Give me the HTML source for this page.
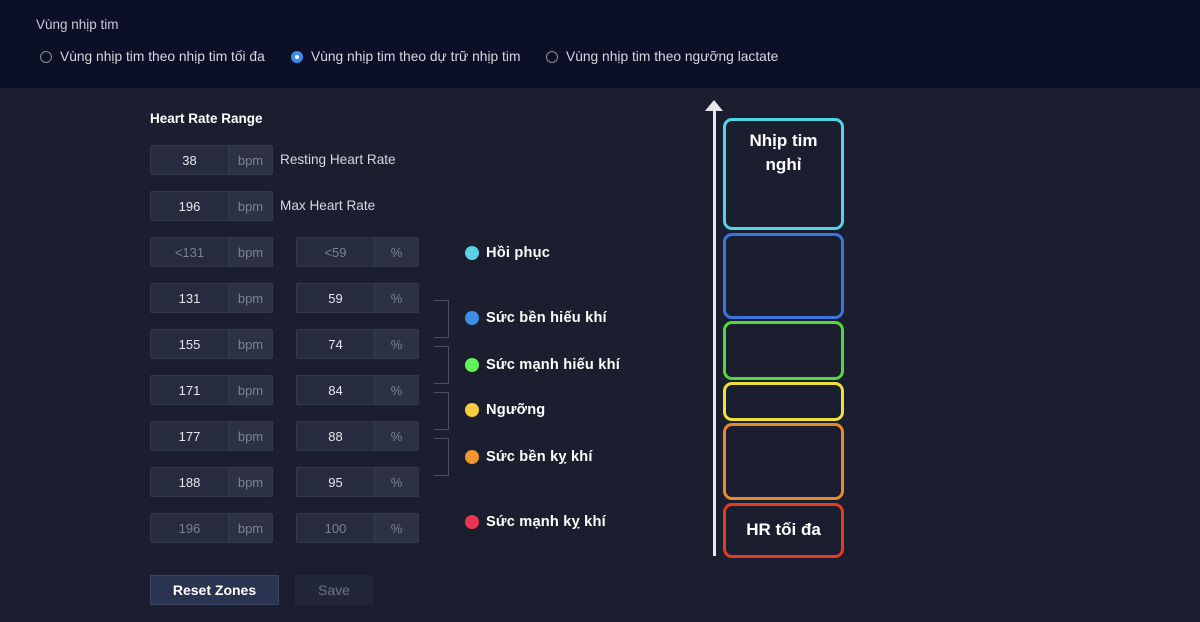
<!DOCTYPE html>
<html><head><meta charset="utf-8"><style>
*{margin:0;padding:0;box-sizing:border-box}
body{width:1200px;height:622px;background:#1a1e2e;font-family:"Liberation Sans","Noto Sans CJK SC",sans-serif;position:relative;overflow:hidden;color:#fff}
.top{position:absolute;left:0;top:0;width:1200px;height:88px;background:#0b1027}
.t1{position:absolute;left:36px;top:17px;font-size:13.5px;color:#c8cbd4}
.radio{position:absolute;top:49px;font-size:13.8px;color:#d6d8de;display:flex;align-items:center}
.radio i{display:inline-block;width:12px;height:12px;border:1px solid #8a8e9a;border-radius:50%;margin-right:8px}
.radio i.on{border:none;background:#3c8cf0;position:relative}
.radio i.on:after{content:"";position:absolute;left:4px;top:4px;width:4px;height:4px;background:#fff;border-radius:50%}
.h{position:absolute;left:150px;top:111px;font-size:13.5px;font-weight:bold}
.in{position:absolute;height:30px;display:flex;border:1px solid #343a4d;border-radius:2px;font-size:13px}
.in .v{background:#262b3d;display:flex;align-items:center;justify-content:center;color:#e6e8ee}
.in .u{background:#2c3144;display:flex;align-items:center;justify-content:center;color:#7c8193;border-left:1px solid #343a4d}
.dim .v{color:#7c8193}
.lbl{position:absolute;left:280px;font-size:13.6px;color:#d6d8de}
.br{position:absolute;left:434px;width:15px;border:1px solid #4a5062;border-left:none}
.lg{position:absolute;left:465px;font-size:14.6px;font-weight:bold;display:flex;align-items:center;letter-spacing:0.2px}
.lg i{display:inline-block;width:14px;height:14px;border-radius:50%;margin-right:7px}
.btn{position:absolute;top:575px;height:30px;font-size:13px;display:flex;align-items:center;justify-content:center}
.z{position:absolute;left:723px;width:121px;border:3px solid;border-radius:9px}
.zt{position:absolute;left:723px;width:121px;text-align:center;font-weight:bold;font-size:17px;line-height:24px}
</style></head><body>
<div class="top"></div>
<div class="t1">Vùng nhịp tim</div>
<div class="radio" style="left:40px"><i></i>Vùng nhịp tim theo nhịp tim tối đa</div>
<div class="radio" style="left:291px"><i class="on"></i>Vùng nhịp tim theo dự trữ nhịp tim</div>
<div class="radio" style="left:546px"><i></i>Vùng nhịp tim theo ngưỡng lactate</div>
<div class="h">Heart Rate Range</div>

<div class="in" style="left:150px;top:145px"><div class="v" style="width:77px">38</div><div class="u" style="width:44px">bpm</div></div>
<div class="lbl" style="top:152px">Resting Heart Rate</div>
<div class="in" style="left:150px;top:191px"><div class="v" style="width:77px">196</div><div class="u" style="width:44px">bpm</div></div>
<div class="lbl" style="top:198px">Max Heart Rate</div>

<div class="in dim" style="left:150px;top:237px"><div class="v" style="width:77px">&lt;131</div><div class="u" style="width:44px">bpm</div></div>
<div class="in dim" style="left:296px;top:237px"><div class="v" style="width:77px">&lt;59</div><div class="u" style="width:44px">%</div></div>
<div class="in" style="left:150px;top:283px"><div class="v" style="width:77px">131</div><div class="u" style="width:44px">bpm</div></div>
<div class="in" style="left:296px;top:283px"><div class="v" style="width:77px">59</div><div class="u" style="width:44px">%</div></div>
<div class="in" style="left:150px;top:329px"><div class="v" style="width:77px">155</div><div class="u" style="width:44px">bpm</div></div>
<div class="in" style="left:296px;top:329px"><div class="v" style="width:77px">74</div><div class="u" style="width:44px">%</div></div>
<div class="in" style="left:150px;top:375px"><div class="v" style="width:77px">171</div><div class="u" style="width:44px">bpm</div></div>
<div class="in" style="left:296px;top:375px"><div class="v" style="width:77px">84</div><div class="u" style="width:44px">%</div></div>
<div class="in" style="left:150px;top:421px"><div class="v" style="width:77px">177</div><div class="u" style="width:44px">bpm</div></div>
<div class="in" style="left:296px;top:421px"><div class="v" style="width:77px">88</div><div class="u" style="width:44px">%</div></div>
<div class="in" style="left:150px;top:467px"><div class="v" style="width:77px">188</div><div class="u" style="width:44px">bpm</div></div>
<div class="in" style="left:296px;top:467px"><div class="v" style="width:77px">95</div><div class="u" style="width:44px">%</div></div>
<div class="in dim" style="left:150px;top:513px"><div class="v" style="width:77px">196</div><div class="u" style="width:44px">bpm</div></div>
<div class="in dim" style="left:296px;top:513px"><div class="v" style="width:77px">100</div><div class="u" style="width:44px">%</div></div>

<div class="br" style="top:300px;height:38px"></div>
<div class="br" style="top:346px;height:38px"></div>
<div class="br" style="top:392px;height:38px"></div>
<div class="br" style="top:438px;height:38px"></div>

<div class="lg" style="top:245px"><i style="background:#5ccfe6"></i>Hồi phục</div>
<div class="lg" style="top:310px"><i style="background:#3d8ee8"></i>Sức bền hiếu khí</div>
<div class="lg" style="top:357px"><i style="background:#62f257"></i>Sức mạnh hiếu khí</div>
<div class="lg" style="top:402px"><i style="background:#f8ce3f"></i>Ngưỡng</div>
<div class="lg" style="top:449px"><i style="background:#f0972f"></i>Sức bền kỵ khí</div>
<div class="lg" style="top:514px"><i style="background:#ea3553"></i>Sức mạnh kỵ khí</div>

<div class="btn" style="left:150px;width:129px;background:#2a3350;border:1px solid #3a4566;font-weight:bold;color:#fff;font-size:14px">Reset Zones</div>
<div class="btn" style="left:295px;width:78px;background:#222738;color:#6e7384;font-size:14px">Save</div>

<div style="position:absolute;left:713px;top:108px;width:3px;height:448px;background:#e8e8ea"></div>
<div style="position:absolute;left:705px;top:100px;width:0;height:0;border-left:9px solid transparent;border-right:9px solid transparent;border-bottom:11px solid #e8e8ea"></div>
<div class="z" style="top:118px;height:112px;border-color:#4fd6e4"></div>
<div class="z" style="top:233px;height:86px;border-color:#3a74e0"></div>
<div class="z" style="top:321px;height:59px;border-color:#55d83a"></div>
<div class="z" style="top:382px;height:39px;border-color:#eee03a"></div>
<div class="z" style="top:423px;height:77px;border-color:#e68a2a"></div>
<div class="z" style="top:503px;height:55px;border-color:#e23c22"></div>
<div class="zt" style="top:129px">Nhịp tim<br>nghỉ</div>
<div class="zt" style="top:518px">HR tối đa</div>
</body></html>
